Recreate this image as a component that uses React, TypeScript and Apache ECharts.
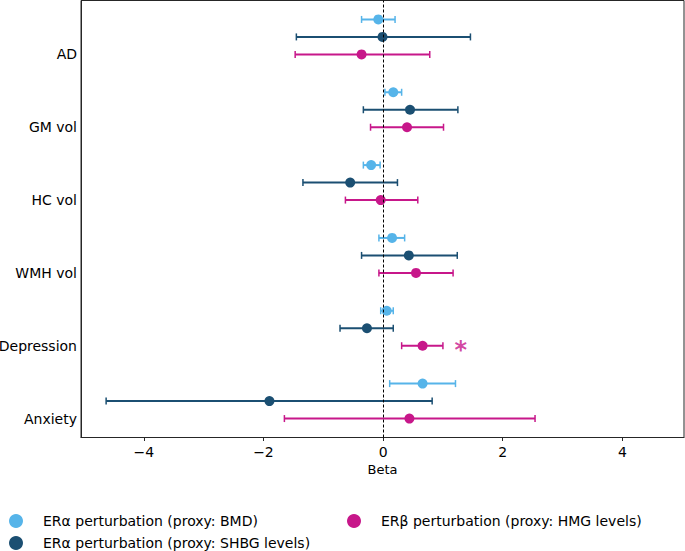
import React, { useEffect, useRef } from 'react';
import * as echarts from 'echarts';

const categories = ['AD', 'GM vol', 'HC vol', 'WMH vol', 'Depression', 'Anxiety'];
const seriesNames = [
  'ERα perturbation (proxy: BMD)',
  'ERα perturbation (proxy: SHBG levels)',
  'ERβ perturbation (proxy: HMG levels)',
];
const colors = ['#56B4E9', '#1B4F72', '#C7178A'];

const bmdBeta = [-0.08, 0.17, -0.2, 0.15, 0.06, 0.66];
const bmdLow = [-0.36, 0.03, -0.33, -0.07, -0.04, 0.11];
const bmdHigh = [0.2, 0.31, -0.05, 0.36, 0.17, 1.21];

const shbgBeta = [-0.01, 0.45, -0.55, 0.43, -0.27, -1.9];
const shbgLow = [-1.45, -0.33, -1.34, -0.36, -0.72, -4.63];
const shbgHigh = [1.46, 1.25, 0.24, 1.24, 0.17, 0.82];

const hmgBeta = [-0.36, 0.4, -0.04, 0.55, 0.66, 0.44];
const hmgLow = [-1.47, -0.21, -0.63, -0.07, 0.31, -1.65];
const hmgHigh = [0.78, 1.01, 0.58, 1.17, 1.0, 2.54];

// significance marker: Depression, ERβ
const sigCategory = 'Depression';
const sigX = 1.3;

const xTicks = [-4, -2, 0, 2, 4];

export default function App() {
  const ref = useRef<HTMLDivElement>(null);
  useEffect(() => {
    const chart = echarts.init(ref.current!, null, { renderer: 'svg' });
    const n = categories.length;
    const yPos = (i: number) => n - 1 - i;
    const offsets = [0.48, 0.24, 0];
    const groups = [
      { beta: bmdBeta, low: bmdLow, high: bmdHigh },
      { beta: shbgBeta, low: shbgLow, high: shbgHigh },
      { beta: hmgBeta, low: hmgLow, high: hmgHigh },
    ];
    const font = 'DejaVu Sans';

    const series: any[] = [];
    groups.forEach((g, gi) => {
      series.push({
        type: 'custom',
        name: seriesNames[gi] + ' CI',
        silent: true,
        data: g.beta.map((_, i) => [g.low[i], g.high[i], yPos(i) + offsets[gi]]),
        renderItem: (params: any, api: any) => {
          const p1 = api.coord([api.value(0), api.value(2)]);
          const p2 = api.coord([api.value(1), api.value(2)]);
          const h = 3.5;
          const style = { stroke: colors[gi], lineWidth: 2 };
          return {
            type: 'group',
            children: [
              { type: 'line', shape: { x1: p1[0], y1: p1[1], x2: p2[0], y2: p2[1] }, style },
              { type: 'line', shape: { x1: p1[0], y1: p1[1] - h, x2: p1[0], y2: p1[1] + h }, style: { stroke: colors[gi], lineWidth: 1.5 } },
              { type: 'line', shape: { x1: p2[0], y1: p2[1] - h, x2: p2[0], y2: p2[1] + h }, style: { stroke: colors[gi], lineWidth: 1.5 } },
            ],
          };
        },
        z: 2,
      });
    });
    groups.forEach((g, gi) => {
      series.push({
        type: 'scatter',
        name: seriesNames[gi],
        symbol: 'circle',
        symbolSize: 10,
        itemStyle: { color: colors[gi], opacity: 1 },
        data: g.beta.map((b, i) => [b, yPos(i) + offsets[gi]]),
        z: 3,
        ...(gi === 0
          ? {
              markLine: {
                silent: true,
                symbol: 'none',
                label: { show: false },
                lineStyle: { color: '#000', width: 1, type: [3, 2] },
                data: [{ xAxis: 0 }],
              },
            }
          : {}),
      });
    });
    series.push({
      type: 'scatter',
      name: 'sig',
      symbolSize: 1,
      itemStyle: { color: 'transparent' },
      data: [[sigX, yPos(categories.indexOf(sigCategory)) + offsets[2]]],
      label: {
        show: true,
        position: 'inside',
        formatter: '*',
        fontSize: 24,
        fontWeight: 'bold',
        fontFamily: font,
        color: colors[2],
        offset: [0, 4],
      },
      z: 4,
    });

    const option: any = {
      animation: false,
      grid: {
        left: 81,
        right: 1,
        top: 0.5,
        bottom: 113.5,
        show: true,
        borderColor: '#262626',
        borderWidth: 1,
        backgroundColor: 'transparent',
        containLabel: false,
        outerBoundsMode: 'none',
      },
      xAxis: {
        type: 'value',
        min: -5.05,
        max: 5.03,
        name: 'Beta',
        nameLocation: 'middle',
        nameGap: 21,
        nameTextStyle: { fontFamily: font, fontSize: 13, color: '#000' },
        splitLine: { show: false },
        axisLine: { show: true, onZero: false, lineStyle: { color: '#262626', width: 1 } },
        axisTick: { show: true, length: 3.5, customValues: xTicks, lineStyle: { color: '#262626' } },
        axisLabel: {
          customValues: xTicks,
          fontFamily: font,
          fontSize: 14,
          color: '#000',
          margin: 7,
          formatter: (v: number) => (v < 0 ? '\u2212' + Math.abs(v) : String(v)),
        },
      },
      yAxis: {
        type: 'value',
        min: -0.26,
        max: 5.74,
        splitLine: { show: false },
        axisLine: { show: true, onZero: false, lineStyle: { color: '#262626', width: 1 } },
        axisTick: { show: false },
        axisLabel: {
          customValues: categories.map((_, i) => yPos(i)),
          fontFamily: font,
          fontSize: 14,
          color: '#000',
          margin: 4,
          formatter: (v: number) => categories[n - 1 - Math.round(v)] ?? '',
        },
      },
      legend: [
        {
          left: 9,
          top: 514,
          height: 37,
          padding: 0,
          orient: 'vertical',
          itemGap: 8,
          itemWidth: 14,
          itemHeight: 14,
          icon: 'circle',
          data: [seriesNames[0], seriesNames[1]],
          textStyle: { fontFamily: font, fontSize: 14, color: '#000', padding: [0, 0, 0, 15] },
        },
        {
          left: 347,
          top: 514,
          padding: 0,
          orient: 'vertical',
          itemWidth: 14,
          itemHeight: 14,
          icon: 'circle',
          data: [seriesNames[2]],
          textStyle: { fontFamily: font, fontSize: 14, color: '#000', padding: [0, 0, 0, 15] },
        },
      ],
      series,
    };
    chart.setOption(option);
    return () => chart.dispose();
  }, []);
  return (
    <div
      ref={ref}
      style={{ position: 'fixed', left: 0, top: 0, width: 685, height: 551, background: '#fff' }}
    />
  );
}
